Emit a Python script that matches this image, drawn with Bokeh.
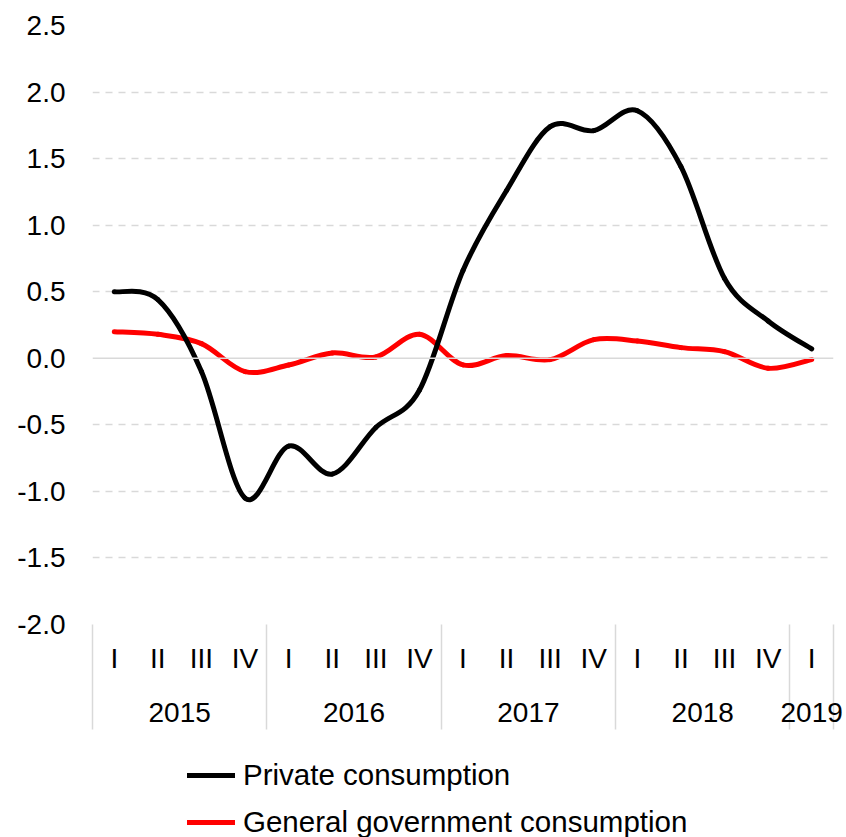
from bokeh.plotting import figure
from bokeh.layouts import column
from bokeh.models import (LinearAxis, FixedTicker, Range1d, Span, Legend, LegendItem,
                          ColumnDataSource, CustomJSTickFormatter)
from bokeh.embed import file_html
from bokeh.resources import INLINE

years = ["2015", "2016", "2017", "2018", "2019"]
quarters_per_year = [4, 4, 4, 4, 1]
quarter_labels = ["I", "II", "III", "IV"] * 4 + ["I"]
private = [0.50, 0.44, -0.10, -1.05, -0.66, -0.87, -0.52, -0.24, 0.66, 1.26, 1.74, 1.71, 1.86, 1.44, 0.60, 0.28, 0.07]
government = [0.20, 0.18, 0.11, -0.10, -0.05, 0.04, 0.01, 0.18, -0.05, 0.02, -0.01, 0.14, 0.13, 0.08, 0.05, -0.075, -0.01]
y_ticks = [-2.0, -1.5, -1.0, -0.5, 0.0, 0.5, 1.0, 1.5, 2.0, 2.5]
series_names = ["Private consumption", "General government consumption"]

FONT = "Liberation Sans"
FS = "28px"
n = len(quarter_labels)
xs = [i + 0.5 for i in range(n)]


def bezier_source(x, y):
    # Catmull-Rom style smoothing (like a spreadsheet "smoothed line") as cubic Bezier segments
    d = dict(x0=[], y0=[], x1=[], y1=[], cx0=[], cy0=[], cx1=[], cy1=[])
    m = len(x)
    for i in range(m - 1):
        p0 = (x[max(i - 1, 0)], y[max(i - 1, 0)])
        p1 = (x[i], y[i])
        p2 = (x[i + 1], y[i + 1])
        p3 = (x[min(i + 2, m - 1)], y[min(i + 2, m - 1)])
        d["x0"].append(p1[0]); d["y0"].append(p1[1])
        d["x1"].append(p2[0]); d["y1"].append(p2[1])
        d["cx0"].append(p1[0] + (p2[0] - p0[0]) / 6.0)
        d["cy0"].append(p1[1] + (p2[1] - p0[1]) / 6.0)
        d["cx1"].append(p2[0] - (p3[0] - p1[0]) / 6.0)
        d["cy1"].append(p2[1] - (p3[1] - p1[1]) / 6.0)
    return ColumnDataSource(d)


src_p = bezier_source(xs, private)
src_g = bezier_source(xs, government)
BZ = dict(x0="x0", y0="y0", x1="x1", y1="y1", cx0="cx0", cy0="cy0", cx1="cx1", cy1="cy1")

p = figure(width=846, height=740, output_backend="svg", toolbar_location=None,
           x_range=Range1d(0, n), y_range=Range1d(-2.0, 2.5),
           min_border_left=92, min_border_right=13, min_border_top=25, min_border_bottom=116,
           x_axis_location=None)
p.outline_line_color = None
p.background_fill_color = "white"
p.border_fill_color = "white"

# y axis
p.yaxis.ticker = FixedTicker(ticks=y_ticks)
p.yaxis.formatter = CustomJSTickFormatter(code="return tick.toFixed(1);")
p.yaxis.axis_line_color = None
p.yaxis.major_tick_line_color = None
p.yaxis.minor_tick_line_color = None
p.yaxis.major_label_text_font = FONT
p.yaxis.major_label_text_font_size = FS
p.yaxis.major_label_text_color = "black"
p.yaxis.major_label_standoff = 21

p.xgrid.grid_line_color = None
p.ygrid.ticker = FixedTicker(ticks=[t for t in y_ticks if t != 0.0])
p.ygrid.grid_line_color = "#d9d9d9"
p.ygrid.grid_line_dash = "7 6"
p.ygrid.grid_line_width = 1.5
p.add_layout(Span(location=0.0, dimension="width", line_color="#d9d9d9", line_width=1.5))

# year group boundaries
bounds = [0]
for q in quarters_per_year:
    bounds.append(bounds[-1] + q)
year_centers = [(bounds[i] + bounds[i + 1]) / 2.0 for i in range(len(years))]

SEP = 105
qaxis = LinearAxis(ticker=FixedTicker(ticks=xs, minor_ticks=bounds),
                   major_label_overrides={x: lab for x, lab in zip(xs, quarter_labels)})
qaxis.axis_line_color = None
qaxis.major_tick_line_color = None
qaxis.major_tick_out = 0
qaxis.major_tick_in = 0
qaxis.minor_tick_line_color = "#d9d9d9"
qaxis.minor_tick_line_width = 1.5
qaxis.minor_tick_out = SEP
qaxis.minor_tick_in = 0
qaxis.major_label_text_font = FONT
qaxis.major_label_text_font_size = FS
qaxis.major_label_text_color = "black"
qaxis.major_label_standoff = 18 - SEP
p.add_layout(qaxis, "below")

yaxis2 = LinearAxis(ticker=FixedTicker(ticks=year_centers),
                    major_label_overrides={c: y for c, y in zip(year_centers, years)})
yaxis2.axis_line_color = None
yaxis2.major_tick_line_color = None
yaxis2.major_tick_out = 0
yaxis2.major_tick_in = 0
yaxis2.minor_tick_line_color = None
yaxis2.major_label_text_font = FONT
yaxis2.major_label_text_font_size = FS
yaxis2.major_label_text_color = "black"
yaxis2.major_label_standoff = 26
p.add_layout(yaxis2, "below")

p.bezier(source=src_g, line_color="#ff0000", line_width=5, line_cap="round", **BZ)
p.bezier(source=src_p, line_color="black", line_width=5, line_cap="round", **BZ)

# legend strip below the chart
lf = figure(width=846, height=97, output_backend="svg", toolbar_location=None,
            x_range=Range1d(100, 101), y_range=Range1d(100, 101),
            min_border_left=0, min_border_right=0, min_border_top=0, min_border_bottom=0,
            x_axis_location=None, y_axis_location=None)
lf.outline_line_color = None
lf.grid.grid_line_color = None
lf.background_fill_color = "white"
lf.border_fill_color = "white"
rp = lf.bezier(source=src_p, line_color="black", line_width=5, line_cap="round", **BZ)
rg = lf.bezier(source=src_g, line_color="#ff0000", line_width=5, line_cap="round", **BZ)
legend = Legend(items=[LegendItem(label=series_names[0], renderers=[rp]),
                       LegendItem(label=series_names[1], renderers=[rg])],
                location=(95, -5), orientation="vertical",
                label_text_font=FONT, label_text_font_size="29.5px", label_text_color="black",
                glyph_width=48, glyph_height=40, label_height=40,
                label_standoff=8, spacing=7, padding=0, margin=0, border_line_color=None,
                background_fill_alpha=0)
lf.add_layout(legend, "center")

layout = column(p, lf, spacing=0)
open("out.html", "w").write(file_html(layout, INLINE))
